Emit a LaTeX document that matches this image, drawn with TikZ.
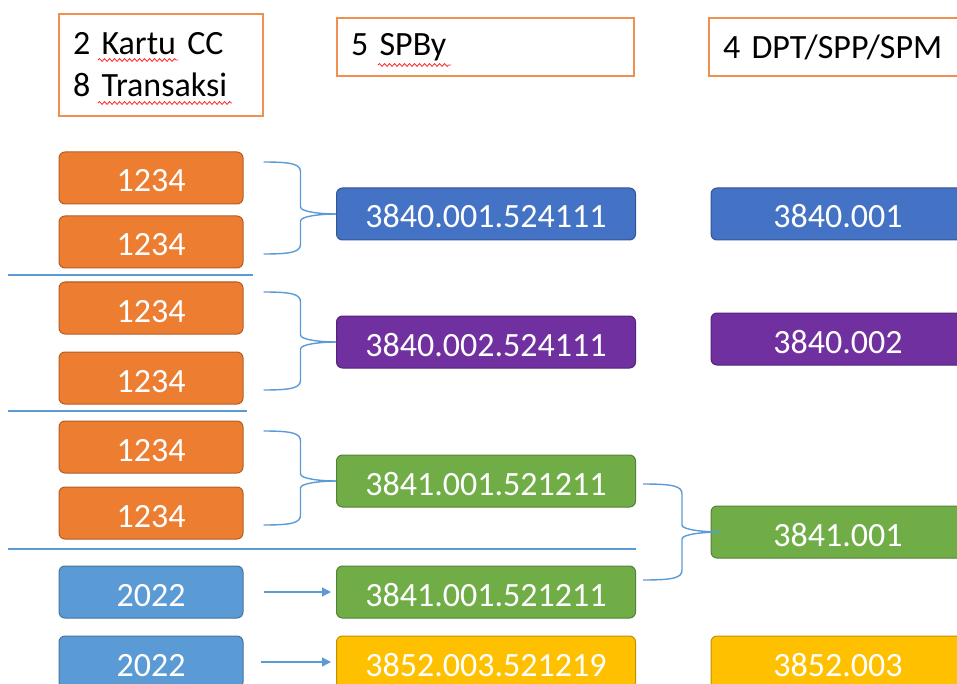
\documentclass[tikz,border=0pt]{standalone}
\usepackage{fontspec}
\setmainfont{Carlito}
\usepackage{xcolor}
\usepackage{tikz}
\usetikzlibrary{arrows.meta,calc,decorations.pathmorphing}
\definecolor{ccorange}{HTML}{ED7D31}
\definecolor{cclight}{HTML}{5B9BD5}
\definecolor{ccblue}{HTML}{4472C4}
\definecolor{ccpurple}{HTML}{7030A0}
\definecolor{ccgreen}{HTML}{70AD47}
\definecolor{ccgold}{HTML}{FFC000}

\tikzset{
  box/.style={rounded corners=6pt, minimum height=52pt, inner sep=0pt,
    text height=28pt, text depth=0pt,
    text=white, line width=1pt, font=\fontsize{34}{41}\selectfont},
  trx/.style={box, fill=#1, draw=#1!75!black, minimum width=184pt},
  spby/.style={box, fill=#1, draw=#1!75!black, minimum width=299pt},
  spm/.style={box, fill=#1, draw=#1!75!black, minimum width=254pt},
  head/.style={draw=ccorange!85, line width=1.2pt, inner xsep=14pt, inner ysep=0pt,
    align=left, font=\fontsize{34}{42}\selectfont},
  link/.style={draw=cclight, line width=1.4pt},
  sep/.style={draw=cclight, line width=1.1pt},
  typo/.style={draw=red!85, line width=0.8pt,
    decorate, decoration={snake, segment length=5pt, amplitude=1.4pt}}
}

\begin{document}
\begin{tikzpicture}[x=1pt, y=-1pt]

  % pixel grid of the screenshot, y runs downwards
  \clip (0,0) rectangle (957,684);

  % column headings
  \node[head, text width=176pt, minimum height=102pt] (hcard) at (161,65)
    {2 Kartu CC\\8 Transaksi};
  \node[head, text width=269pt, minimum height=58pt] (hspby) at (485.5,47) {5 SPBy};
  \node[head, text width=252pt, minimum height=58pt] (hspm) at (849,47) {4 DPT/SPP/SPM};
  \draw[typo] (98,60) -- (178,60);
  \draw[typo] (98,103) -- (232,103);
  \draw[typo] (378,65) -- (451,65);

  % card transactions, left column
  \foreach \n/\y/\c/\t in {o1/178/ccorange/1234, o2/242/ccorange/1234,
      o3/308/ccorange/1234, o4/378/ccorange/1234, o5/447/ccorange/1234,
      o6/513/ccorange/1234, b1/592/cclight/2022, b2/662/cclight/2022}
    \node[trx=\c] (\n) at (151,\y) {\t};

  % SPBy, middle column
  \node[spby=ccblue]   (m1) at (486,214) {3840.001.524111};
  \node[spby=ccpurple] (m2) at (486,342) {3840.002.524111};
  \node[spby=ccgreen]  (m3) at (486,481) {3841.001.521211};
  \node[spby=ccgreen]  (m4) at (486,592) {3841.001.521211};
  \node[spby=ccgold]   (m5) at (486,662) {3852.003.521219};

  % DPT/SPP/SPM, right column (runs off the right edge)
  \node[spm=ccblue]   (r1) at (838,214) {3840.001};
  \node[spm=ccpurple] (r2) at (838,339) {3840.002};
  \node[spm=ccgreen]  (r3) at (838,532) {3841.001};
  \node[spm=ccgold]   (r4) at (838,662) {3852.003};

  % group separators
  \draw[sep] (8,275) -- (253,275);
  \draw[sep] (8,411) -- (247,411);
  \draw[sep] (8,549) -- (636,549);

  % two transactions -> one SPBy: a curly bracket pinched at the tip
  \foreach \a/\b/\p in {o1/o2/m1, o3/o4/m2, o5/o6/m3}{
    \coordinate (tp) at ($(\a.east)+(20,-16)$);
    \coordinate (bt) at ($(\b.east)+(20,12)$);
    \draw[link] (tp) .. controls +(28,0) and +(0,-8) .. ++(37,10) coordinate (q)
      -- ($(q |- \p.west)+(0,-7)$) .. controls +(0,5) and +(-14,0) .. (\p.west);
    \draw[link] (bt) .. controls +(28,0) and +(0,8) .. ++(37,-10) coordinate (q)
      -- ($(q |- \p.west)+(0,7)$) .. controls +(0,-5) and +(-14,0) .. (\p.west);
  }

  % two SPBy -> one SPM
  \coordinate (tp) at ($(m3.east)+(7,3)$);
  \coordinate (bt) at ($(m4.east)+(7,-12)$);
  \coordinate (tip) at ($(r3.west)+(9,0)$);
  \draw[link] (tp) .. controls +(30,0) and +(0,-8) .. ++(39,10) coordinate (q)
    -- ($(q |- tip)+(0,-7)$) .. controls +(0,5) and +(-14,0) .. (tip);
  \draw[link] (bt) .. controls +(30,0) and +(0,8) .. ++(39,-10) coordinate (q)
    -- ($(q |- tip)+(0,7)$) .. controls +(0,-5) and +(-14,0) .. (tip);

  % one transaction -> one SPBy
  \draw[link, -{Triangle[length=9pt, width=9pt]}] ($(b1.east)+(20,0)$) -- ($(m4.west)+(-5,0)$);
  \draw[link, -{Triangle[length=9pt, width=9pt]}] ($(b2.east)+(17,0)$) -- ($(m5.west)+(-5,0)$);

\end{tikzpicture}
\end{document}
